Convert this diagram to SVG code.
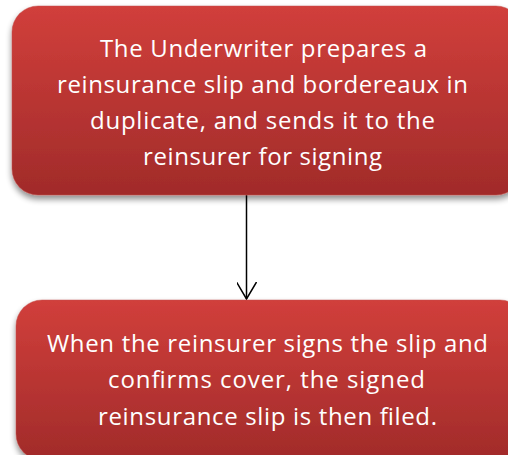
<svg xmlns="http://www.w3.org/2000/svg" width="508" height="455" viewBox="0 0 508 455">
<defs>
<linearGradient id="g" x1="0" y1="0" x2="0" y2="1">
<stop offset="0" stop-color="#d13f3b"/>
<stop offset="1" stop-color="#a12b2a"/>
</linearGradient>
<filter id="sh" x="-10%" y="-10%" width="120%" height="130%">
<feGaussianBlur in="SourceAlpha" stdDeviation="3"/>
<feOffset dx="0" dy="4" result="b"/>
<feComponentTransfer><feFuncA type="linear" slope="0.45"/></feComponentTransfer>
<feMerge><feMergeNode/><feMergeNode in="SourceGraphic"/></feMerge>
</filter>
<marker id="arr" viewBox="0 0 18 20" refX="17" refY="10" markerWidth="18" markerHeight="20" markerUnits="userSpaceOnUse" orient="auto">
<path d="M0,0 L17,10 L0,20" fill="none" stroke="#000" stroke-width="1.5"/>
</marker>
</defs>
<style>
.box{fill:url(#g);stroke:#c0504d;stroke-width:0.5;filter:url(#sh)}
.t{font-family:"Open Sans","Noto Sans",sans-serif;font-size:24px;fill:#fff;text-anchor:middle}
</style>
<rect width="508" height="455" fill="#fff"/>
<g id="connectors">
<line x1="246.5" y1="195" x2="246.5" y2="299" stroke="#000" stroke-width="1.5" marker-end="url(#arr)"/>
</g>
<g id="node1">
<rect class="box" x="12" y="6" width="510" height="189" rx="26"/>
<text class="t" x="263.5" y="57" textLength="327" lengthAdjust="spacing">The Underwriter prepares a</text>
<text class="t" x="262.5" y="93" textLength="411" lengthAdjust="spacing">reinsurance slip and bordereaux in</text>
<text class="t" x="262.5" y="129" textLength="345" lengthAdjust="spacing">duplicate, and sends it to the</text>
<text class="t" x="262.5" y="165" textLength="239" lengthAdjust="spacing">reinsurer for signing</text>
</g>
<g id="node2">
<rect class="box" x="16" y="300" width="510" height="160" rx="26"/>
<text class="t" x="267.5" y="352" textLength="441" lengthAdjust="spacing">When the reinsurer signs the slip and</text>
<text class="t" x="266.5" y="388" textLength="317" lengthAdjust="spacing">confirms cover, the signed</text>
<text class="t" x="267.5" y="425" textLength="339" lengthAdjust="spacing">reinsurance slip is then filed.</text>
</g>
</svg>
